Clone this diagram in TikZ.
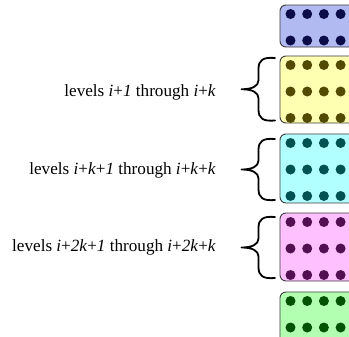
\documentclass[tikz,border=0pt]{standalone}
\usepackage{fontspec}
\setmainfont{Liberation Serif}
\definecolor{bluefill}{RGB}{178,186,242}
\definecolor{bluedot}{RGB}{12,12,72}
\definecolor{yellowfill}{RGB}{255,255,178}
\definecolor{yellowdot}{RGB}{82,74,0}
\definecolor{cyanfill}{RGB}{178,255,255}
\definecolor{cyandot}{RGB}{0,82,82}
\definecolor{magentafill}{RGB}{255,192,255}
\definecolor{magentadot}{RGB}{82,16,82}
\definecolor{greenfill}{RGB}{178,255,178}
\definecolor{greendot}{RGB}{0,82,0}
\definecolor{boxline}{RGB}{60,60,60}
\tikzset{
  levelbox/.style={draw=boxline, line width=0.9bp, rounded corners=6bp},
  bracepath/.style={draw=black, line width=1.8bp, line cap=round, line join=round},
  label/.style={anchor=base east, inner sep=0pt, font=\fontsize{17.2}{20}\selectfont},
}
% one block of nodes: top edge, bottom edge, first row, number of rows, colours
\newcommand{\levelblock}[6]{%
  \path[levelbox, fill=#5] (280,#1) rectangle (370,#2);
  \foreach \r in {1,...,#4} {
    \foreach \c in {0,1,2,3} {
      \fill[#6] ({290.5+16.7*\c},{#3+26.5*(\r-1)}) circle (5bp);
    }
  }%
}
% curly brace: top end, bottom end
\newcommand{\levelbrace}[2]{%
  \pgfmathsetmacro{\bm}{(#1+#2)/2}
  \draw[bracepath] (275,#1) .. controls (263,{#1-1}) and (258.5,{#1+2}) .. (258.5,{#1+11})
    -- (258.5,{\bm-9}) .. controls (258.5,{\bm-3}) and (252,\bm) .. (241.5,\bm)
    .. controls (252,\bm) and (258.5,{\bm+3}) .. (258.5,{\bm+9})
    -- (258.5,{#2-11}) .. controls (258.5,{#2-2}) and (263,{#2+1}) .. (275,#2);%
}
\begin{document}
\begin{tikzpicture}[x=1bp,y=-1bp]
  \useasboundingbox (0,0) rectangle (349,337);
  \clip (0,0) rectangle (349,337);
  \fill[white] (0,0) rectangle (349,337);

  % stacked blocks of levels
  \levelblock{5}{47}{14}{2}{bluefill}{bluedot}
  \levelblock{56}{123}{65}{3}{yellowfill}{yellowdot}
  \levelblock{134}{203}{143}{3}{cyanfill}{cyandot}
  \levelblock{213}{281}{222}{3}{magentafill}{magentadot}
  \levelblock{292}{360}{301}{2}{greenfill}{greendot}

  % braces grouping the middle blocks
  \levelbrace{58}{120.5}
  \levelbrace{139}{200}
  \levelbrace{217}{278}

  % labels
  \node[label] (l1) at (216,96.5) {levels \textit{i}+\textit{1} through \textit{i}+\textit{k}};
  \node[label] (l2) at (216,174) {levels \textit{i}+\textit{k}+\textit{1} through \textit{i}+\textit{k}+\textit{k}};
  \node[label] (l3) at (216,251) {levels \textit{i}+\textit{2k}+\textit{1} through \textit{i}+\textit{2k}+\textit{k}};
\end{tikzpicture}
\end{document}
